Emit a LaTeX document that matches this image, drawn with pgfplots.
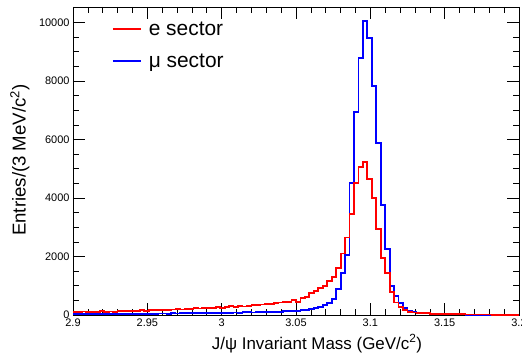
\documentclass[border=0pt]{standalone}
\usepackage{fontspec}
\setmainfont{Liberation Sans}
\usepackage{pgfplots}
\pgfplotsset{compat=1.18}
\usepackage{pgfplotstable}
\definecolor{rootred}{RGB}{255,0,0}
\definecolor{rootblue}{RGB}{0,0,255}
\pgfplotstableread{
x e mu
2.900 110 30
2.903 100 25
2.906 120 35
2.909 105 30
2.912 115 30
2.915 95 25
2.918 130 35
2.921 100 30
2.924 120 30
2.927 110 35
2.930 150 35
2.933 130 40
2.936 140 35
2.939 125 40
2.942 150 40
2.945 160 45
2.948 140 40
2.951 170 45
2.954 160 45
2.957 175 50
2.960 180 50
2.963 170 45
2.966 190 55
2.969 200 50
2.972 190 55
2.975 210 60
2.978 200 55
2.981 230 60
2.984 220 60
2.987 240 65
2.990 250 60
2.993 240 70
2.996 270 65
2.999 250 70
3.002 280 75
3.005 300 80
3.008 270 85
3.011 310 80
3.014 290 90
3.017 320 95
3.020 340 85
3.023 330 90
3.026 360 95
3.029 380 100
3.032 370 105
3.035 410 110
3.038 430 115
3.041 440 125
3.044 435 130
3.047 510 140
3.050 455 150
3.053 570 160
3.056 625 180
3.059 740 200
3.062 830 230
3.065 910 260
3.068 990 330
3.071 1175 420
3.074 1300 540
3.077 1600 880
3.080 2100 1440
3.083 2650 2050
3.086 3440 4520
3.089 4525 6950
3.092 5050 8775
3.095 5230 10060
3.098 4650 9460
3.101 3990 7830
3.104 2950 5890
3.107 1950 3760
3.110 1425 2245
3.113 800 1000
3.116 430 650
3.119 285 400
3.122 170 230
3.125 115 150
3.128 85 100
3.131 80 80
3.134 65 60
3.137 60 50
3.140 45 40
3.143 40 35
3.146 40 30
3.149 35 25
3.152 30 20
3.155 30 20
3.158 25 15
3.161 25 15
3.164 20 12
3.167 20 12
3.170 20 10
3.173 18 10
3.176 15 8
3.179 15 8
3.182 12 6
3.185 12 6
3.188 10 5
3.191 10 5
3.194 10 5
3.197 8 4
3.200 8 4
}\hist

\begin{document}
\begin{tikzpicture}
\begin{axis}[
  scale only axis,
  width=446bp, height=308bp,
  xmin=2.9, xmax=3.2, ymin=0, ymax=10530,
  xtick={2.9,2.95,3.0,3.05,3.1,3.15,3.2},
  xticklabels={2.9,2.95,3,3.05,3.1,3.15,3.2},
  minor x tick num=4,
  ytick={0,2000,4000,6000,8000,10000},
  yticklabels={0,2000,4000,6000,8000,10000},
  minor y tick num=3,
  scaled y ticks=false,
  /pgf/number format/assume math mode=true,
  tick label style={font=\fontsize{11}{13}\selectfont},
  major tick length=12bp, minor tick length=6bp,
  tick style={black, line width=0.6bp},
  axis line style={line width=0.8bp},
  every axis x label/.style={at={(rel axis cs:0.547,0)}, anchor=north, yshift=-16bp},
  every axis y label/.style={at={(rel axis cs:-0.0897,0.503)}, rotate=90, anchor=south},
  xlabel style={font=\fontsize{17}{20}\selectfont},
  ylabel style={font=\fontsize{18.7}{22}\selectfont},
  xlabel={J/ψ Invariant Mass (GeV/c\textsuperscript{2})},
  ylabel={Entries/(3 MeV/c\textsuperscript{2})},
  legend style={draw=none, fill=none, at={(0.087,0.96)}, anchor=north west,
    inner sep=0pt, font=\fontsize{21}{25}\selectfont, row sep=13bp,
    nodes={inner xsep=7bp}},
  legend cell align=left,
  legend image code/.code={\draw[#1, line width=1.8bp] (0bp,0bp) -- (28bp,0bp);},
  reverse legend,
]
\addplot[color=rootblue, line width=1.8bp, const plot mark left] table[x=x, y=mu] {\hist};
\addplot[color=rootred, line width=1.8bp, const plot mark left] table[x=x, y=e] {\hist};
\legend{μ sector, e sector}
\end{axis}
\pgfresetboundingbox
\useasboundingbox ([shift={(-73bp,-43bp)}]current axis.south west) rectangle ([shift={(3bp,7bp)}]current axis.north east);
\end{tikzpicture}
\end{document}
